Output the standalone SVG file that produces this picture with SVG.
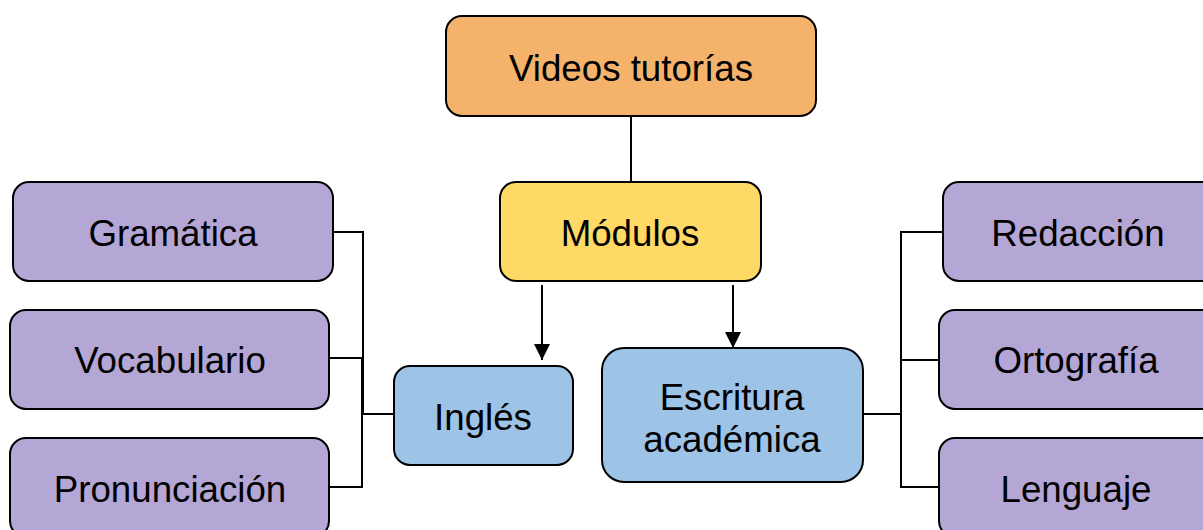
<svg xmlns="http://www.w3.org/2000/svg" width="1203" height="530" viewBox="0 0 1203 530">
<style>
.box{stroke:#000;stroke-width:2}
.or{fill:#F5B26B}
.ye{fill:#FED966}
.bl{fill:#9DC3E6}
.pu{fill:#B4A7D6}
.t{font-family:"Liberation Sans",Arial,sans-serif;font-size:36.7px;fill:#000;text-anchor:middle}
.c{fill:none;stroke:#000;stroke-width:2}
</style>
<defs>
<marker id="ah" viewBox="0 0 10 10" refX="10" refY="5" markerWidth="16" markerHeight="16" markerUnits="userSpaceOnUse" orient="auto">
<path d="M0,0 L10,5 L0,10 z" fill="#000"/>
</marker>
</defs>
<g id="connectors">
<line class="c" x1="631" y1="116" x2="631" y2="182"/>
<line class="c" x1="542" y1="285" x2="542" y2="360" marker-end="url(#ah)"/>
<line class="c" x1="733" y1="285" x2="733" y2="348" marker-end="url(#ah)"/>
<polyline class="c" points="394,414 363,414 363,232 333,232"/>
<polyline class="c" points="394,414 362,414 362,358 329,358"/>
<polyline class="c" points="394,414 362,414 362,487 329,487"/>
<polyline class="c" points="863,414 901,414 901,232 943,232"/>
<polyline class="c" points="863,414 901,414 901,360 939,360"/>
<polyline class="c" points="863,414 901,414 901,487 939,487"/>
</g>
<g id="videos">
<rect class="box or" x="446" y="16" width="370" height="100" rx="16"/>
<text class="t" x="631" y="81">Videos tutorías</text>
</g>
<g id="modulos">
<rect class="box ye" x="500" y="182" width="261" height="99" rx="16"/>
<text class="t" x="630" y="246">Módulos</text>
</g>
<g id="ingles">
<rect class="box bl" x="394" y="366" width="179" height="99" rx="16"/>
<text class="t" x="483" y="430">Inglés</text>
</g>
<g id="escritura">
<rect class="box bl" x="602" y="348" width="261" height="134" rx="22"/>
<text class="t" x="732" y="410">Escritura</text>
<text class="t" x="732" y="452">académica</text>
</g>
<g id="gramatica">
<rect class="box pu" x="13" y="182" width="320" height="99" rx="16"/>
<text class="t" x="173" y="246">Gramática</text>
</g>
<g id="vocabulario">
<rect class="box pu" x="10" y="310" width="319" height="99" rx="16"/>
<text class="t" x="170" y="373">Vocabulario</text>
</g>
<g id="pronunciacion">
<rect class="box pu" x="10" y="438" width="319" height="99" rx="16"/>
<text class="t" x="170" y="502">Pronunciación</text>
</g>
<g id="redaccion">
<rect class="box pu" x="943" y="182" width="275" height="99" rx="16"/>
<text class="t" x="1078" y="246">Redacción</text>
</g>
<g id="ortografia">
<rect class="box pu" x="939" y="310" width="279" height="99" rx="16"/>
<text class="t" x="1076" y="373">Ortografía</text>
</g>
<g id="lenguaje">
<rect class="box pu" x="939" y="438" width="279" height="99" rx="16"/>
<text class="t" x="1076" y="502">Lenguaje</text>
</g>
</svg>
